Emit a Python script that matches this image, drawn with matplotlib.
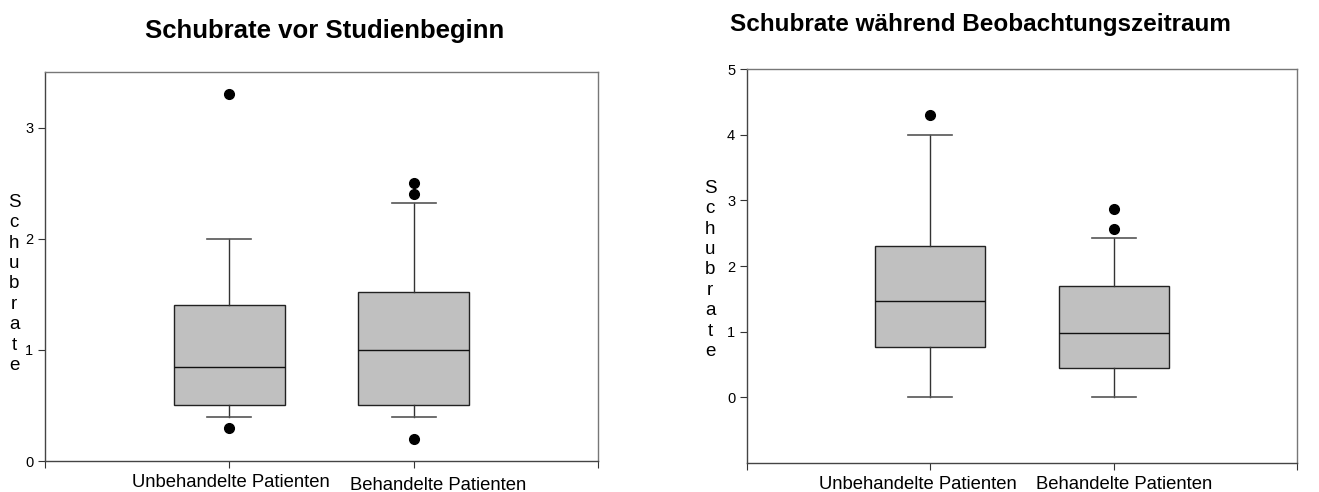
import matplotlib
matplotlib.use("Agg")
import matplotlib.pyplot as plt
from matplotlib.transforms import ScaledTranslation

plt.rcParams['font.family'] = ['Liberation Sans', 'DejaVu Sans']

groups = ["Unbehandelte Patienten", "Behandelte Patienten"]

# vor Studienbeginn
pre_whislo = [0.4, 0.4]
pre_q1 = [0.5, 0.5]
pre_med = [0.85, 1.0]
pre_q3 = [1.4, 1.52]
pre_whishi = [2.0, 2.32]
pre_fliers = [[3.3, 0.3], [2.5, 2.4, 0.2]]

# während Beobachtungszeitraum
obs_whislo = [0.0, 0.0]
obs_q1 = [0.77, 0.44]
obs_med = [1.46, 0.98]
obs_q3 = [2.31, 1.70]
obs_whishi = [4.0, 2.43]
obs_fliers = [[4.3], [2.87, 2.57]]

y_label = "\n".join("Schubrate")


def make_stats(whislo, q1, med, q3, whishi, fliers):
    stats = []
    for i in range(len(groups)):
        stats.append({
            "whislo": whislo[i], "q1": q1[i], "med": med[i],
            "q3": q3[i], "whishi": whishi[i], "fliers": fliers[i],
        })
    return stats


def draw_panel(ax, stats, ylim, yticks, title, title_x, title_y, title_size):
    ax.bxp(stats, positions=[1, 2], widths=0.6, patch_artist=True,
           showfliers=True,
           boxprops=dict(facecolor="#c0c0c0", edgecolor="#222222", linewidth=1),
           medianprops=dict(color="#111111", linewidth=1),
           whiskerprops=dict(color="#333333", linewidth=1),
           capprops=dict(color="#555555", linewidth=1.2),
           capwidths=0.24,
           flierprops=dict(marker="o", markerfacecolor="black",
                           markeredgecolor="black", markersize=7))
    ax.set_xlim(0, 3)
    ax.set_ylim(*ylim)
    ax.set_yticks(yticks)
    ax.set_xticks([0, 1, 2, 3])
    ax.set_xticklabels(["", groups[0], groups[1], ""], fontsize=13.3)
    ax.tick_params(axis="y", labelsize=10.5, length=5, width=0.8, color="#333333")
    ax.tick_params(axis="x", length=5, width=0.8, color="#333333", pad=4)
    for side in ["left", "bottom"]:
        ax.spines[side].set_color("#444444")
        ax.spines[side].set_linewidth(1)
    for side in ["top", "right"]:
        ax.spines[side].set_color("#777777")
        ax.spines[side].set_linewidth(1)
    ax.set_ylabel(y_label, rotation=0, fontsize=13.5, linespacing=1.26,
                  va="center", ha="center")
    ax.text(title_x, title_y, title, transform=ax.transAxes, ha="center",
            va="center", fontsize=title_size, fontweight="bold")


def shift_labels(ax, shifts):
    # the original labels sit a bit off their ticks
    labels = ax.get_xticklabels()
    for i, (dx, dy) in enumerate(shifts):
        lab = labels[i + 1]
        lab.set_transform(lab.get_transform()
                          + ScaledTranslation(dx / 100, -dy / 100, fig.dpi_scale_trans))


fig = plt.figure(figsize=(13.19, 4.92), dpi=100)
ax1 = fig.add_axes([0.0341, 0.063, 0.4193, 0.7907])
ax2 = fig.add_axes([0.5663, 0.0589, 0.417, 0.8008])

draw_panel(ax1, make_stats(pre_whislo, pre_q1, pre_med, pre_q3, pre_whishi, pre_fliers),
           (0, 3.5), [0, 1, 2, 3], "Schubrate vor Studienbeginn", 0.505, 1.105, 18.5)
draw_panel(ax2, make_stats(obs_whislo, obs_q1, obs_med, obs_q3, obs_whishi, obs_fliers),
           (-1, 5), [0, 1, 2, 3, 4, 5], "Schubrate während Beobachtungszeitraum", 0.425, 1.112, 17.5)

shift_labels(ax1, [(2, 0), (24, 3)])
shift_labels(ax2, [(-12, 0), (10, 0)])

ax1.yaxis.set_label_coords(-0.056, 0.455)
ax2.yaxis.set_label_coords(-0.067, 0.49)

fig.savefig("out.png", dpi=100)
